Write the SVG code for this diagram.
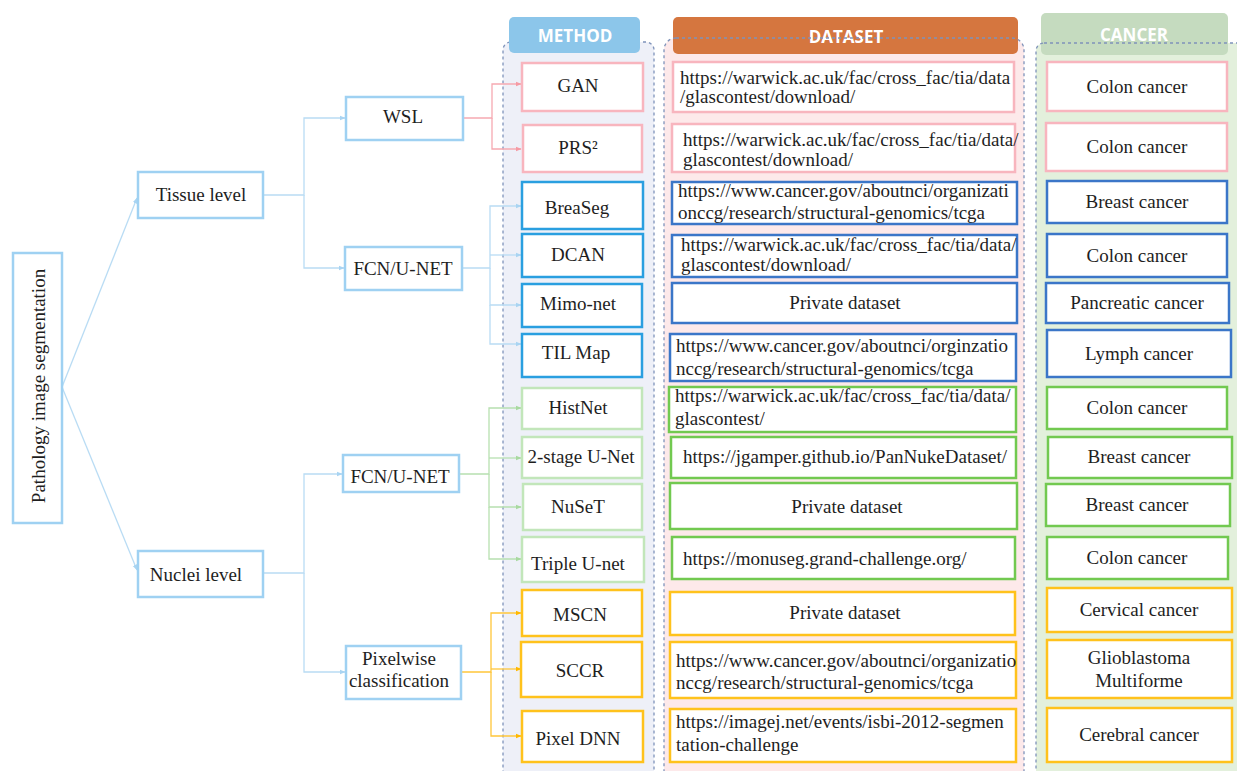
<svg xmlns="http://www.w3.org/2000/svg" width="1237" height="771" viewBox="0 0 1237 771">
<defs>
<style>
.t{font-family:"Liberation Serif","Times New Roman",serif;font-size:19px;fill:#1e1e1e}
.c{text-anchor:middle}
.h{font-family:"Open Sans","Liberation Sans",sans-serif;font-size:17px;font-weight:bold;fill:#ffffff;text-anchor:middle}
.lb{fill:#fff;stroke:#9fd1f2;stroke-width:2.5}
.pk{fill:#fff;stroke:#f8b5be;stroke-width:2.5}
.mb{fill:#fff;stroke:#2a9fe0;stroke-width:2.5}
.db{fill:#fff;stroke:#3b76c8;stroke-width:2.5}
.mg{fill:#fff;stroke:#c2e6ba;stroke-width:2.5}
.dg{fill:#fff;stroke:#72c950;stroke-width:2.5}
.or{fill:#fff;stroke:#ffc21c;stroke-width:2.5}
.panel{stroke:#7f93ba;stroke-width:1.3;stroke-dasharray:3,3;fill:none}
.cb{fill:none;stroke:#b9dcf4;stroke-width:1.3}
.cp{fill:none;stroke:#f6a9b1;stroke-width:1.3}
.cg{fill:none;stroke:#b7e0b0;stroke-width:1.3}
.co{fill:none;stroke:#ffc63a;stroke-width:1.3}
</style>
<marker id="ab" viewBox="0 0 10 10" refX="9" refY="5" markerWidth="6" markerHeight="6" markerUnits="userSpaceOnUse" orient="auto"><path d="M0,1 L10,5 L0,9 z" fill="#a9d4f2"/></marker>
<marker id="ap" viewBox="0 0 10 10" refX="9" refY="5" markerWidth="6" markerHeight="6" markerUnits="userSpaceOnUse" orient="auto"><path d="M0,1 L10,5 L0,9 z" fill="#f59aa4"/></marker>
<marker id="ag" viewBox="0 0 10 10" refX="9" refY="5" markerWidth="6" markerHeight="6" markerUnits="userSpaceOnUse" orient="auto"><path d="M0,1 L10,5 L0,9 z" fill="#a8d9a0"/></marker>
<marker id="ao" viewBox="0 0 10 10" refX="9" refY="5" markerWidth="6" markerHeight="6" markerUnits="userSpaceOnUse" orient="auto"><path d="M0,1 L10,5 L0,9 z" fill="#ffb800"/></marker>
</defs>

<g id="panels">
<rect x="503" y="42" width="151" height="740" rx="8" fill="#eef0f8"/>
<rect x="664" y="38" width="360" height="744" rx="12" fill="#fde9ea"/>
<rect x="1036" y="43" width="215" height="739" rx="8" fill="#e3f0dc"/>
<rect x="503" y="42" width="151" height="740" rx="8" class="panel"/>
<rect x="509" y="17" width="131" height="36" rx="5" fill="#8cc6ea"/>
<text x="575" y="42" class="h">METHOD</text>
<rect x="673" y="17" width="345" height="37" rx="5" fill="#d5763f"/>
<text x="846" y="43" class="h">DATASET</text>
<rect x="1041" y="13" width="187" height="42" rx="5" fill="#c5dbbf"/>
<text x="1134" y="41" class="h" fill="#f4f7f2">CANCER</text>
<rect x="664" y="38" width="360" height="744" rx="12" class="panel"/>
<rect x="1036" y="43" width="215" height="739" rx="8" class="panel"/>
</g>

<g id="connectors">
<path class="cb" d="M62,387 L137,198" marker-end="url(#ab)"/>
<path class="cb" d="M62,387 L137,570" marker-end="url(#ab)"/>
<path class="cb" d="M263,195 H304 V118 H345" marker-end="url(#ab)"/>
<path class="cb" d="M304,195 V268 H344" marker-end="url(#ab)"/>
<path class="cb" d="M263,573 H304 V474 H342" marker-end="url(#ab)"/>
<path class="cb" d="M304,573 V672 H345" marker-end="url(#ab)"/>
<path class="cp" d="M463,118 H492 V84 H521" marker-end="url(#ap)"/>
<path class="cp" d="M492,118 V149 H521" marker-end="url(#ap)"/>
<path class="cb" d="M462,268 H490 V206 H521" marker-end="url(#ab)"/>
<path class="cb" d="M490,255 H521" marker-end="url(#ab)"/>
<path class="cb" d="M490,268 V305 H521" marker-end="url(#ab)"/>
<path class="cb" d="M490,305 V344 H521" marker-end="url(#ab)"/>
<path class="cg" d="M459,474 H489 V408 H521" marker-end="url(#ag)"/>
<path class="cg" d="M489,458 H521" marker-end="url(#ag)"/>
<path class="cg" d="M489,474 V507 H521" marker-end="url(#ag)"/>
<path class="cg" d="M489,507 V559 H521" marker-end="url(#ag)"/>
<path class="co" d="M461,672 H491 V613 H521" marker-end="url(#ao)"/>
<path class="co" d="M491,669 H521" marker-end="url(#ao)"/>
<path class="co" d="M491,672 V736 H521" marker-end="url(#ao)"/>
</g>

<g id="root"><rect x="13" y="253" width="49" height="270" class="lb"/><text class="t c" transform="translate(45,386) rotate(-90)">Pathology image segmentation</text></g>
<g id="tissue"><rect x="138" y="172" width="125" height="46" class="lb"/><text x="201" y="201" class="t c">Tissue level</text></g>
<g id="nuclei"><rect x="138" y="551" width="125" height="46" class="lb"/><text x="196" y="581" class="t c">Nuclei level</text></g>
<g id="wsl"><rect x="346" y="97" width="117" height="43" class="lb"/><text x="403" y="123" class="t c">WSL</text></g>
<g id="fcn1"><rect x="345" y="247" width="117" height="43" class="lb"/><text x="403" y="275" class="t c">FCN/U-NET</text></g>
<g id="fcn2"><rect x="343" y="455" width="116" height="37" class="lb"/><text x="400" y="483" class="t c">FCN/U-NET</text></g>
<g id="pixelwise"><rect x="346" y="646" width="115" height="53" class="lb"/><text x="399" y="665" class="t c">Pixelwise</text><text x="399" y="687" class="t c">classification</text></g>

<g id="m-gan"><rect x="522" y="63" width="121" height="48" class="pk"/><text x="578" y="92" class="t c">GAN</text></g>
<g id="m-prs"><rect x="523" y="125" width="119" height="47" class="pk"/><text x="578" y="154" class="t c">PRS²</text></g>
<g id="m-breaseg"><rect x="522" y="182" width="121" height="47" class="mb"/><text x="577" y="214" class="t c">BreaSeg</text></g>
<g id="m-dcan"><rect x="522" y="234" width="121" height="43" class="mb"/><text x="578" y="261" class="t c">DCAN</text></g>
<g id="m-mimo"><rect x="522" y="284" width="120" height="43" class="mb"/><text x="578" y="310" class="t c">Mimo-net</text></g>
<g id="m-til"><rect x="522" y="334" width="120" height="43" class="mb"/><text x="576" y="359" class="t c">TIL Map</text></g>
<g id="m-histnet"><rect x="522" y="388" width="120" height="41" class="mg"/><text x="578" y="414" class="t c">HistNet</text></g>
<g id="m-2stage"><rect x="522" y="437" width="120" height="41" class="mg"/><text x="581" y="463" class="t c">2-stage U-Net</text></g>
<g id="m-nuset"><rect x="523" y="484" width="119" height="46" class="mg"/><text x="578" y="513" class="t c">NuSeT</text></g>
<g id="m-triple"><rect x="522" y="537" width="122" height="45" class="mg"/><text x="578" y="570" class="t c">Triple U-net</text></g>
<g id="m-mscn"><rect x="522" y="590" width="120" height="46" class="or"/><text x="580" y="621" class="t c">MSCN</text></g>
<g id="m-sccr"><rect x="521" y="642" width="121" height="55" class="or"/><text x="580" y="677" class="t c">SCCR</text></g>
<g id="m-pixeldnn"><rect x="522" y="711" width="121" height="51" class="or"/><text x="578" y="745" class="t c">Pixel DNN</text></g>

<g id="d-1"><rect x="673" y="62" width="341" height="50" class="pk"/><text x="680" y="84" class="t">https://warwick.ac.uk/fac/cross_fac/tia/data</text><text x="680" y="103" class="t">/glascontest/download/</text></g>
<g id="d-2"><rect x="672" y="124" width="343" height="48" class="pk"/><text x="683" y="146" class="t">https://warwick.ac.uk/fac/cross_fac/tia/data/</text><text x="683" y="166" class="t">glascontest/download/</text></g>
<g id="d-3"><rect x="672" y="182" width="345" height="42" class="db"/><text x="678" y="197" class="t">https://www.cancer.gov/aboutnci/organizati</text><text x="678" y="219" class="t">onccg/research/structural-genomics/tcga</text></g>
<g id="d-4"><rect x="672" y="235" width="345" height="42" class="db"/><text x="681" y="251" class="t">https://warwick.ac.uk/fac/cross_fac/tia/data/</text><text x="681" y="271" class="t">glascontest/download/</text></g>
<g id="d-5"><rect x="672" y="283" width="345" height="40" class="db"/><text x="845" y="309" class="t c">Private dataset</text></g>
<g id="d-6"><rect x="670" y="334" width="346" height="47" class="db"/><text x="676" y="352" class="t">https://www.cancer.gov/aboutnci/orginzatio</text><text x="676" y="375" class="t">nccg/research/structural-genomics/tcga</text></g>
<g id="d-7"><rect x="669" y="387" width="347" height="45" class="dg"/><text x="675" y="402" class="t">https://warwick.ac.uk/fac/cross_fac/tia/data/</text><text x="675" y="425" class="t">glascontest/</text></g>
<g id="d-8"><rect x="671" y="437" width="345" height="41" class="dg"/><text x="683" y="463" class="t">https://jgamper.github.io/PanNukeDataset/</text></g>
<g id="d-9"><rect x="670" y="483" width="347" height="46" class="dg"/><text x="847" y="513" class="t c">Private dataset</text></g>
<g id="d-10"><rect x="672" y="537" width="343" height="42" class="dg"/><text x="683" y="565" class="t">https://monuseg.grand-challenge.org/</text></g>
<g id="d-11"><rect x="670" y="592" width="345" height="43" class="or"/><text x="845" y="619" class="t c">Private dataset</text></g>
<g id="d-12"><rect x="670" y="642" width="346" height="56" class="or"/><text x="676" y="667" class="t">https://www.cancer.gov/aboutnci/organizatio</text><text x="676" y="689" class="t">nccg/research/structural-genomics/tcga</text></g>
<g id="d-13"><rect x="670" y="709" width="346" height="53" class="or"/><text x="676" y="728" class="t">https://imagej.net/events/isbi-2012-segmen</text><text x="676" y="751" class="t">tation-challenge</text></g>

<g id="c-1"><rect x="1047" y="62" width="180" height="49" class="pk"/><text x="1137" y="93" class="t c">Colon cancer</text></g>
<g id="c-2"><rect x="1046" y="123" width="181" height="48" class="pk"/><text x="1137" y="153" class="t c">Colon cancer</text></g>
<g id="c-3"><rect x="1047" y="181" width="180" height="42" class="db"/><text x="1137" y="208" class="t c">Breast cancer</text></g>
<g id="c-4"><rect x="1047" y="234" width="180" height="43" class="db"/><text x="1137" y="262" class="t c">Colon cancer</text></g>
<g id="c-5"><rect x="1046" y="283" width="183" height="40" class="db"/><text x="1137" y="309" class="t c">Pancreatic cancer</text></g>
<g id="c-6"><rect x="1047" y="330" width="184" height="47" class="db"/><text x="1139" y="360" class="t c">Lymph cancer</text></g>
<g id="c-7"><rect x="1047" y="387" width="180" height="42" class="dg"/><text x="1137" y="414" class="t c">Colon cancer</text></g>
<g id="c-8"><rect x="1048" y="437" width="184" height="41" class="dg"/><text x="1139" y="463" class="t c">Breast cancer</text></g>
<g id="c-9"><rect x="1046" y="484" width="184" height="42" class="dg"/><text x="1137" y="511" class="t c">Breast cancer</text></g>
<g id="c-10"><rect x="1047" y="537" width="181" height="42" class="dg"/><text x="1137" y="564" class="t c">Colon cancer</text></g>
<g id="c-11"><rect x="1047" y="588" width="185" height="44" class="or"/><text x="1139" y="616" class="t c">Cervical cancer</text></g>
<g id="c-12"><rect x="1047" y="640" width="185" height="58" class="or"/><text x="1139" y="664" class="t c">Glioblastoma</text><text x="1139" y="687" class="t c">Multiforme</text></g>
<g id="c-13"><rect x="1047" y="708" width="185" height="54" class="or"/><text x="1139" y="741" class="t c">Cerebral cancer</text></g>
</svg>
